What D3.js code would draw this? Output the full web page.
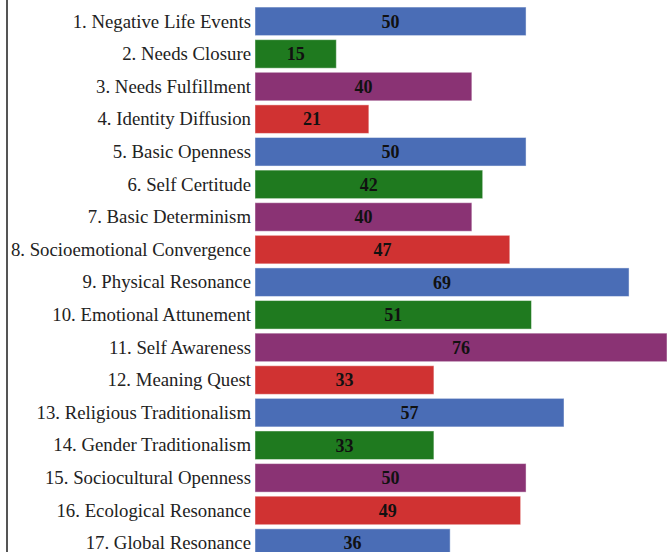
<!DOCTYPE html>
<html>
<head>
<meta charset="utf-8">
<script src="https://cdn.jsdelivr.net/npm/d3@7"></script>
<style>
  body { margin: 0; background: #fff; }
  #chart { position: absolute; left: 6px; top: 0; border-left: 2px solid #555; height: 552px; }
</style>
</head>
<body>
<div id="chart"></div>
<script>
var categories = [
  "1. Negative Life Events", "2. Needs Closure", "3. Needs Fulfillment",
  "4. Identity Diffusion", "5. Basic Openness", "6. Self Certitude",
  "7. Basic Determinism", "8. Socioemotional Convergence", "9. Physical Resonance",
  "10. Emotional Attunement", "11. Self Awareness", "12. Meaning Quest",
  "13. Religious Traditionalism", "14. Gender Traditionalism",
  "15. Sociocultural Openness", "16. Ecological Resonance", "17. Global Resonance"
];
var values = [50, 15, 40, 21, 50, 42, 40, 47, 69, 51, 76, 33, 57, 33, 50, 49, 36];
var palette = ["#4a6db6", "#1f7a1f", "#8a3374", "#d03232"];

var width = 661, height = 560;
var left = 247; // where bars start, relative to the container

var svg = d3.select("#chart").append("svg")
  .attr("width", width)
  .attr("height", height)
  .style("display", "block");

var yScale = d3.scaleBand()
  .domain(categories)
  .range([7 - 1.9, 7 - 1.9 + 32.6 * categories.length])
  .paddingInner(0.125)
  .paddingOuter(0.06);

var xScale = d3.scaleLinear()
  .domain([0, 76])
  .range([left, left + 412]);

var rows = svg.selectAll("g.row")
  .data(categories)
  .enter()
  .append("g")
  .attr("class", "row");

rows.append("rect")
  .attr("x", xScale(0))
  .attr("y", function(d) { return yScale(d); })
  .attr("width", function(d, i) { return xScale(values[i]) - xScale(0); })
  .attr("height", yScale.bandwidth())
  .attr("fill", function(d, i) { return palette[i % 4]; })
  .attr("stroke", "rgba(255,255,255,0.45)")
  .attr("stroke-width", 1);

// category labels
rows.append("text")
  .attr("x", left - 4)
  .attr("y", function(d) { return yScale(d) + yScale.bandwidth() / 2; })
  .attr("dy", "0.33em")
  .attr("text-anchor", "end")
  .style("font-family", "'Liberation Serif', 'Times New Roman', serif")
  .style("font-size", "18.8px")
  .attr("fill", "#222")
  .text(function(d) { return d; });

// value labels
rows.append("text")
  .attr("x", function(d, i) { return (xScale(0) + xScale(values[i])) / 2; })
  .attr("y", function(d) { return yScale(d) + yScale.bandwidth() / 2; })
  .attr("dy", "0.35em")
  .attr("text-anchor", "middle")
  .style("font-family", "'Liberation Serif', 'Times New Roman', serif")
  .style("font-size", "18px")
  .style("font-weight", "bold")
  .attr("fill", "#111")
  .text(function(d, i) { return values[i]; });
</script>
</body>
</html>
